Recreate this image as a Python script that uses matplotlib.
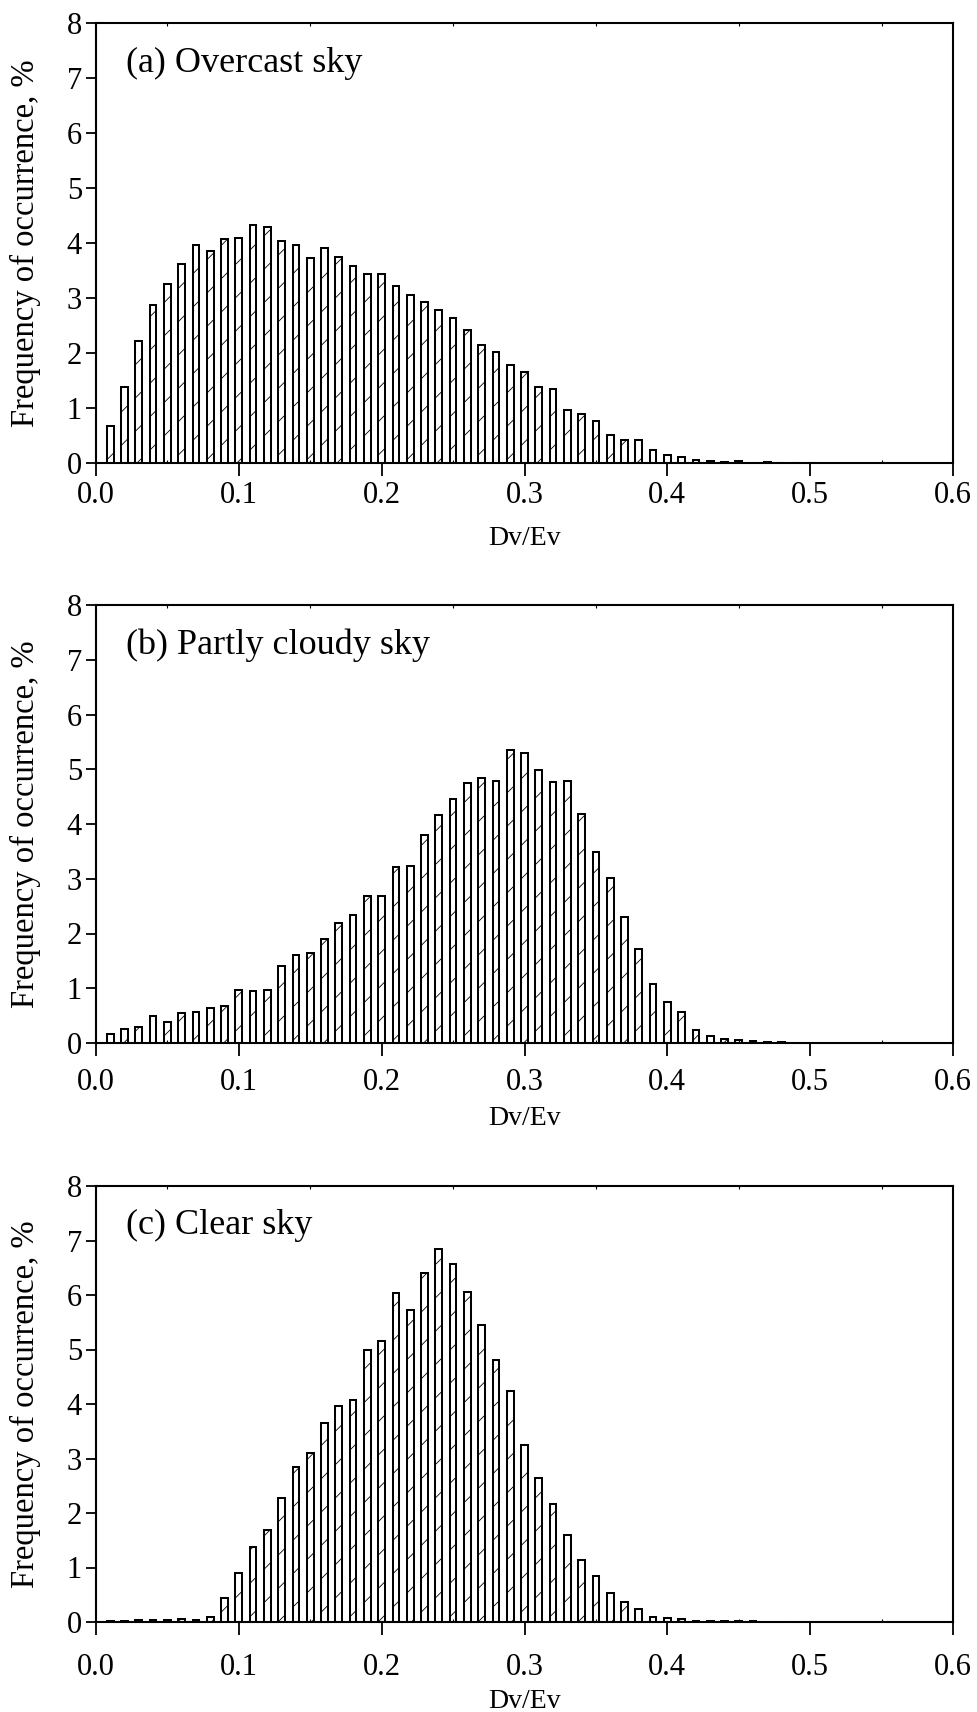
import numpy as np
import matplotlib
matplotlib.use('Agg')
import matplotlib.pyplot as plt
from matplotlib.ticker import MultipleLocator

# bin centres of the Dv/Ev histogram (0.01 .. 0.50)
dv_ev = [round(0.01 * k, 2) for k in range(1, 51)]

overcast = [0.68, 1.39, 2.22, 2.87, 3.25, 3.61, 3.96, 3.85, 4.08, 4.10,
            4.33, 4.30, 4.03, 3.96, 3.73, 3.91, 3.75, 3.58, 3.44, 3.44,
            3.21, 3.05, 2.92, 2.79, 2.63, 2.41, 2.15, 2.01, 1.78, 1.66,
            1.38, 1.35, 0.96, 0.89, 0.76, 0.51, 0.42, 0.41, 0.24, 0.15,
            0.11, 0.06, 0.04, 0.025, 0.03, 0.0, 0.01, 0.0, 0.0, 0.0]

partly_cloudy = [0.16, 0.26, 0.30, 0.50, 0.39, 0.54, 0.56, 0.64, 0.68, 0.96,
                 0.95, 0.97, 1.41, 1.61, 1.64, 1.90, 2.19, 2.33, 2.69, 2.69,
                 3.22, 3.24, 3.79, 4.16, 4.46, 4.75, 4.84, 4.79, 5.36, 5.29,
                 4.98, 4.77, 4.79, 4.18, 3.48, 3.01, 2.31, 1.72, 1.07, 0.74,
                 0.56, 0.24, 0.12, 0.07, 0.06, 0.04, 0.02, 0.01, 0.0, 0.0]

clear = [0.02, 0.02, 0.04, 0.04, 0.03, 0.05, 0.03, 0.10, 0.44, 0.89,
         1.37, 1.69, 2.27, 2.85, 3.10, 3.65, 3.96, 4.07, 5.00, 5.15,
         6.04, 5.72, 6.41, 6.84, 6.56, 6.06, 5.45, 4.80, 4.24, 3.24,
         2.64, 2.16, 1.59, 1.13, 0.84, 0.53, 0.37, 0.23, 0.10, 0.07,
         0.05, 0.02, 0.02, 0.01, 0.01, 0.01, 0.0, 0.0, 0.0, 0.0]

panels = [('(a) Overcast sky', overcast),
          ('(b) Partly cloudy sky', partly_cloudy),
          ('(c) Clear sky', clear)]

plt.rcParams['font.family'] = ['Liberation Serif', 'DejaVu Serif']
plt.rcParams['hatch.linewidth'] = 0.6

W, H = 978, 1712
fig = plt.figure(figsize=(W / 100, H / 100), dpi=100)

# axes boxes in pixels: (left, top, right, bottom)
boxes = [(96, 23, 953, 463), (96, 605, 953, 1043), (96, 1186, 953, 1622)]
tick_pads = [4, 9, 13]
xlabel_y = [-0.143, -0.143, -0.153]

for (title, vals), (l, t, r, b), tp, xly in zip(panels, boxes, tick_pads, xlabel_y):
    ax = fig.add_axes([l / W, 1 - b / H, (r - l) / W, (b - t) / H])
    ax.bar(dv_ev, vals, width=0.0047, facecolor='white', edgecolor='black',
           linewidth=1.45, hatch='/')
    ax.set_xlim(0, 0.6)
    ax.set_ylim(0, 8)
    ax.xaxis.set_major_locator(MultipleLocator(0.1))
    ax.xaxis.set_minor_locator(MultipleLocator(0.05))
    ax.yaxis.set_major_locator(MultipleLocator(1))
    ax.xaxis.set_major_formatter(matplotlib.ticker.FormatStrFormatter('%.1f'))
    ax.tick_params(axis='x', which='major', direction='out', length=9, width=1.3,
                   labelsize=22, pad=tp)
    ax.tick_params(axis='y', which='major', direction='out', length=7, width=1.3,
                   labelsize=22, pad=3)
    ax.tick_params(axis='x', which='minor', direction='in', length=2, width=0.8,
                   top=True)
    for s in ax.spines.values():
        s.set_linewidth(1.5)
    ax.set_xlabel('Dv/Ev', fontsize=20)
    ax.xaxis.set_label_coords(0.5, xly)
    ax.set_ylabel('Frequency of occurrence, %', fontsize=23.5)
    ax.yaxis.set_label_coords(-0.064, 0.5)
    ax.text(0.035, 0.889, title, transform=ax.transAxes, fontsize=26,
            va='baseline', ha='left')

fig.savefig('out.png', dpi=100)
